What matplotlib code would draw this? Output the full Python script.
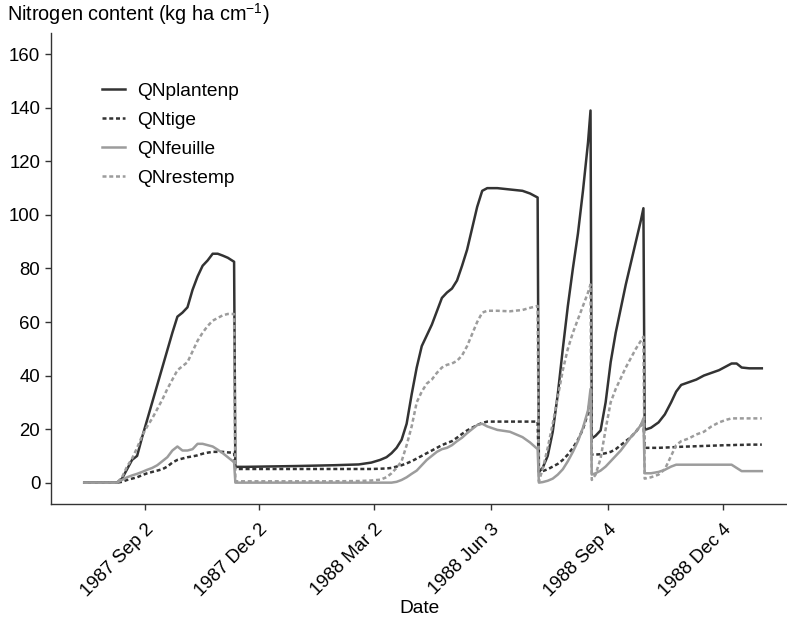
import numpy as np
import matplotlib
matplotlib.use('Agg')
import matplotlib.pyplot as plt

plt.rcParams['font.family'] = ['Liberation Sans', 'DejaVu Sans']

# days counted from 1987-09-02
days = [-48, -22, -18, -14, -10, -6, -2, 2, 6, 10, 14, 18, 22, 26, 30, 34, 38, 42, 46, 50, 54, 58, 62, 66, 70, 71,
        72, 80, 120, 150, 170, 180, 187, 192, 196, 200, 204, 208, 212, 216, 220, 224, 228, 232, 236, 240,
        244, 248, 252, 256, 260, 264, 268, 272, 280, 290, 300, 306, 312,
        313, 316, 320, 324, 328, 332, 336, 340, 344, 348, 352, 354,
        355, 358, 362, 366, 370, 374, 378, 382, 386, 390, 394, 396,
        397, 402, 408, 413, 418, 422, 426, 432, 438, 444, 450, 456, 462, 466, 470, 474, 480, 490]

qn_plantenp = [0, 0, 1.5, 5, 8.5, 10, 17, 23.5, 30, 36.5, 43, 49.5, 56, 62, 63.5, 65.5, 72, 77, 81, 83, 85.5, 85.5, 84.8, 84, 82.8, 82.5,
               5.9, 5.9, 6.2, 6.5, 6.8, 7.5, 8.5, 9.5, 11, 13, 16, 22, 33, 43, 51, 55, 59, 64, 69, 71,
               72.5, 75.5, 81, 87, 95, 103, 109, 110, 110, 109.5, 109, 108, 106.5,
               4, 5.5, 10, 19, 33, 50, 66, 80, 93, 109, 127, 139,
               16.5, 17.5, 19.5, 30, 45, 56, 65, 74, 82, 90, 98, 102.5,
               19.7, 20.5, 22.5, 25.5, 30, 34, 36.5, 37.5, 38.5, 40, 41, 42, 43.5, 44.5, 44.5, 43, 42.7, 42.7]

qn_tige = [0, 0, 0.3, 1, 1.5, 2, 2.8, 3.5, 4, 4.5, 5, 6, 7.5, 8.5, 9, 9.5, 9.8, 10.2, 10.8, 11.2, 11.5, 11.5, 11.5, 11.3, 11.2, 11.2,
           5.1, 5.1, 5.1, 5.1, 5.1, 5.1, 5.2, 5.3, 5.5, 6, 6.5, 7.2, 8, 9, 10, 11, 12, 13, 14, 14.8,
           15.5, 16.8, 18.2, 19.5, 20.5, 21.5, 22.3, 22.8, 22.8, 22.8, 22.8, 22.8, 22.8,
           4, 4.3, 5, 6, 7, 8.5, 10.5, 13, 16, 20, 26, 32,
           10.5, 10.5, 10.6, 11, 11.5, 12.5, 14, 15.5, 17, 19, 21.5, 23,
           13, 13, 13, 13.1, 13.2, 13.3, 13.4, 13.5, 13.6, 13.7, 13.8, 13.9, 14, 14, 14.1, 14.1, 14.2, 14.2]

qn_feuille = [0, 0, 1, 2, 2.7, 3.3, 4, 4.8, 5.5, 6.5, 8, 9.5, 12, 13.5, 12, 12, 12.5, 14.5, 14.5, 14, 13.5, 12.3, 11, 9.5, 8, 7.5,
              0, 0, 0, 0, 0, 0, 0, 0, 0, 0.3, 1, 2, 3.3, 4.5, 6.5, 8.5, 10, 11.5, 12.5, 13,
              14, 15.5, 16.8, 18.5, 20, 21.5, 22, 21, 19.7, 19, 17, 15, 12.5,
              0, 0.2, 0.7, 1.5, 3, 5, 8, 11.5, 15.5, 20.5, 27, 35,
              3, 3.5, 4.5, 6, 8, 10, 12, 14.5, 17, 19, 21.5, 24,
              3.5, 3.5, 4, 4.8, 6, 6.7, 6.7, 6.7, 6.7, 6.7, 6.7, 6.7, 6.7, 6.7, 5.5, 4.3, 4.3, 4.3]

qn_restemp = [0, 0, 2, 6, 9, 13, 17.5, 21, 24, 27.5, 31, 35, 38.5, 42, 43.5, 45, 49, 53, 56, 58.5, 60.5, 61.5, 62.5, 63, 63, 63,
              0.5, 0.5, 0.5, 0.5, 0.6, 0.8, 1.1, 2, 3.5, 5.5, 8, 14, 21, 30, 34, 37, 38.5, 41, 43, 44,
              44.5, 45.5, 47.5, 51, 55.5, 60, 63.5, 64.2, 64.2, 64, 64.5, 65.3, 66,
              0.5, 5, 13, 22, 32, 42, 50, 56, 61, 66, 71, 74,
              1, 3, 9, 20, 30, 35, 39, 43, 46.5, 50, 53, 54.5,
              1.5, 2, 3, 5, 10, 14, 15.5, 16.5, 18, 19, 21, 22.5, 23.5, 24, 24, 24, 24, 24]

tick_dates = ['1987-09-02', '1987-12-02', '1988-03-02', '1988-06-03', '1988-09-04', '1988-12-04']
tick_labels = ['1987 Sep 2', '1987 Dec 2', '1988 Mar 2', '1988 Jun 3', '1988 Sep 4', '1988 Dec 4']

base = np.datetime64('1987-09-02')
dates = base + np.array(days).astype('timedelta64[D]')

dark = '#333333'
grey = '#9c9c9c'

fig = plt.figure(figsize=(7.87, 6.2), dpi=100)
ax = fig.add_axes([0.0654, 0.187, 0.9346, 0.76])

ax.plot(dates, qn_plantenp, color=dark, lw=1.8, label='QNplantenp')
ax.plot(dates, qn_tige, color=dark, lw=1.8, dashes=(1.6, 1.1), label='QNtige')
ax.plot(dates, qn_feuille, color=grey, lw=1.8, label='QNfeuille')
ax.plot(dates, qn_restemp, color=grey, lw=1.8, dashes=(1.6, 1.1), label='QNrestemp')

ax.set_xlim(base - np.timedelta64(74, 'D'), base + np.timedelta64(510, 'D'))
ax.set_ylim(-8, 168)
ax.set_yticks(range(0, 161, 20))
ax.set_xticks(np.array(tick_dates, dtype='datetime64[D]'))
ax.set_xticklabels(tick_labels, rotation=45, ha='right', va='top', rotation_mode='anchor')

for side in ['top', 'right']:
    ax.spines[side].set_visible(False)
for side in ['left', 'bottom']:
    ax.spines[side].set_color(dark)
    ax.spines[side].set_linewidth(1.0)
ax.tick_params(direction='out', length=4, width=1, color=dark, labelsize=13.4, pad=4)
ax.tick_params(axis='x', pad=8)

ax.set_xlabel('Date', fontsize=13.8, labelpad=0)
fig.text(7 / 787, 1 - 21 / 620, 'Nitrogen content (kg ha cm$^{\\mathregular{-1}}$)', fontsize=14.3, va='baseline')

ax.legend(loc='upper left', bbox_to_anchor=(0.058, 0.911), frameon=False, fontsize=13.8,
          handlelength=1.2, handletextpad=0.62, labelspacing=0.6, borderaxespad=0)

fig.savefig('out.png', dpi=100)
